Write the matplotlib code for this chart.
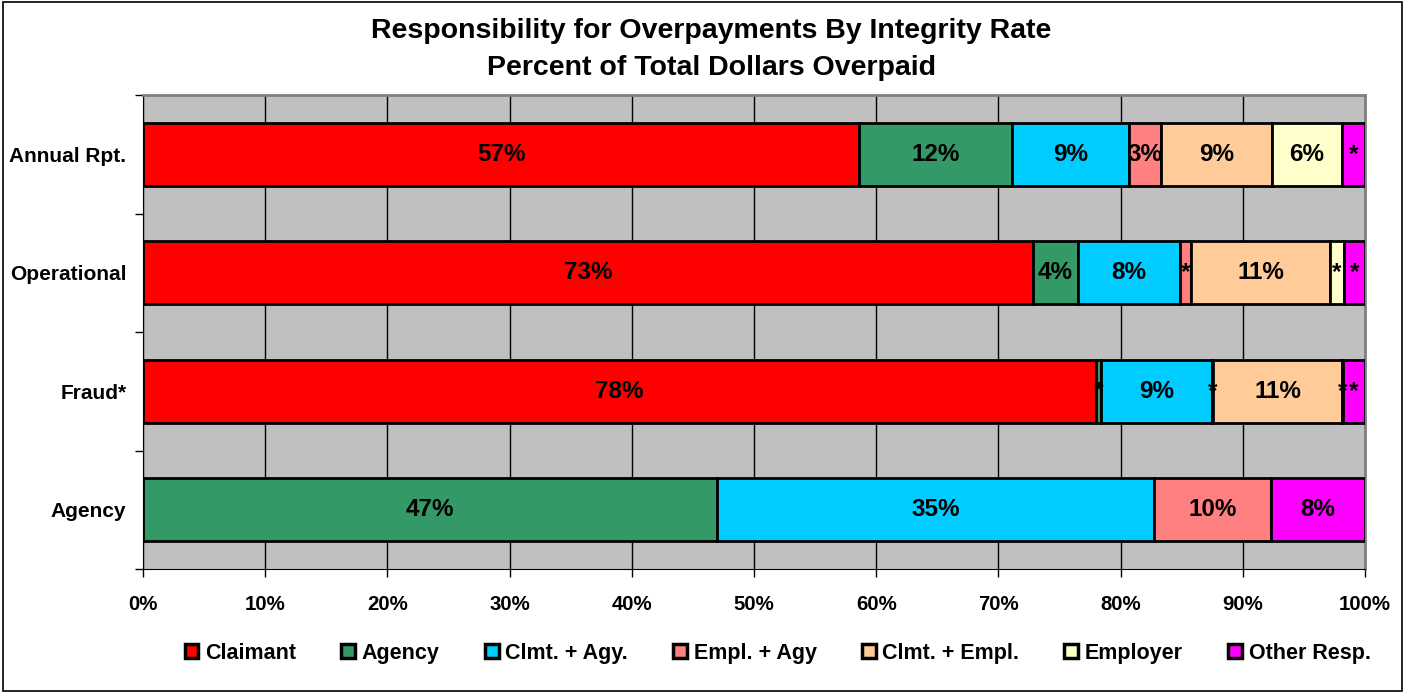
import matplotlib
matplotlib.use("Agg")
import matplotlib.pyplot as plt
from matplotlib.patches import Rectangle, Patch
import numpy as np

plt.rcParams['font.family'] = ['Liberation Sans', 'DejaVu Sans']

categories = ["Agency", "Fraud*", "Operational", "Annual Rpt."]
series_names = ["Claimant", "Agency", "Clmt. + Agy.", "Empl. + Agy", "Clmt. + Empl.", "Employer", "Other Resp."]
colors = ["#FF0000", "#339966", "#00CCFF", "#FF8080", "#FFCC99", "#FFFFCC", "#FF00FF"]

# values per series, in category order (Agency, Fraud*, Operational, Annual Rpt.)
claimant   = [0.0, 78.0, 72.8, 58.6]
agency     = [47.0, 0.4, 3.7, 12.5]
clmt_agy   = [35.7, 9.1, 8.4, 9.6]
empl_agy   = [9.6, 0.1, 0.9, 2.6]
clmt_empl  = [0.0, 10.5, 11.3, 9.1]
employer   = [0.0, 0.1, 1.2, 5.7]
other      = [7.7, 1.8, 1.7, 1.9]

claimant_lbl  = ["", "78%", "73%", "57%"]
agency_lbl    = ["47%", "*", "4%", "12%"]
clmt_agy_lbl  = ["35%", "9%", "8%", "9%"]
empl_agy_lbl  = ["10%", "*", "*", "3%"]
clmt_empl_lbl = ["", "11%", "11%", "9%"]
employer_lbl  = ["", "*", "*", "6%"]
other_lbl     = ["8%", "*", "*", "*"]

series = [claimant, agency, clmt_agy, empl_agy, clmt_empl, employer, other]
labels = [claimant_lbl, agency_lbl, clmt_agy_lbl, empl_agy_lbl, clmt_empl_lbl, employer_lbl, other_lbl]
x_ticks = [0, 10, 20, 30, 40, 50, 60, 70, 80, 90, 100]
x_tick_labels = ["0%", "10%", "20%", "30%", "40%", "50%", "60%", "70%", "80%", "90%", "100%"]

fig = plt.figure(figsize=(14.06, 6.94), dpi=100)
ax = fig.add_axes([143/1406, 1 - 569/694, (1365-143)/1406, (569-95)/694])
ax.set_facecolor("#C0C0C0")

y = np.arange(len(categories))
left = np.zeros(len(categories))
for vals, lbls, col, name in zip(series, labels, colors, series_names):
    vals = np.array(vals)
    ax.barh(y, vals, left=left, height=0.53, color=col, edgecolor="black",
            linewidth=2, zorder=3, label=name)
    for yi, v, l, lab in zip(y, vals, left, lbls):
        if lab:
            ax.text(l + v/2, yi, lab, ha="center", va="center", fontsize=17.5,
                    fontweight="bold", color="black", zorder=4)
    left = left + vals

ax.set_xlim(0, 100)
ax.set_ylim(-0.5, 3.5)
ax.set_xticks(x_ticks)
ax.set_xticklabels(x_tick_labels, fontsize=14.7, fontweight="bold")
ax.tick_params(axis="x", length=6, width=1, direction="out", pad=13)
ax.set_yticks(y)
ax.set_yticklabels(categories, fontsize=15, fontweight="bold")
ax.set_yticks(np.arange(-0.5, 4, 1), minor=True)
ax.tick_params(axis="y", which="major", length=0, pad=12)
ax.tick_params(axis="y", which="minor", length=6, width=1, direction="out")
ax.xaxis.grid(True, color="black", linewidth=1, zorder=1)
ax.set_axisbelow(True)
for s in ["top", "right"]:
    ax.spines[s].set_color("#808080")
    ax.spines[s].set_linewidth(2)
ax.spines["left"].set_color("black")
ax.spines["bottom"].set_color("black")

fig.text(0.506, 0.956, "Responsibility for Overpayments By Integrity Rate",
         ha="center", va="center", fontsize=20.5, fontweight="bold")
fig.text(0.506, 0.902, "Percent of Total Dollars Overpaid",
         ha="center", va="center", fontsize=20.5, fontweight="bold")

handles = [Patch(facecolor=c, edgecolor="black", linewidth=2.5) for c in colors]
fig.legend(handles, series_names, loc="center", bbox_to_anchor=(0.553, 0.059),
           ncol=7, frameon=False, prop={"size": 15.5, "weight": "bold"},
           handlelength=0.65, handleheight=0.65, handletextpad=0.3, columnspacing=2.1)

fig.patches.append(Rectangle((0.002, 0.004), 0.995, 0.993, transform=fig.transFigure,
                             fill=False, edgecolor="black", linewidth=1.2))

fig.savefig("out.png", dpi=100)
